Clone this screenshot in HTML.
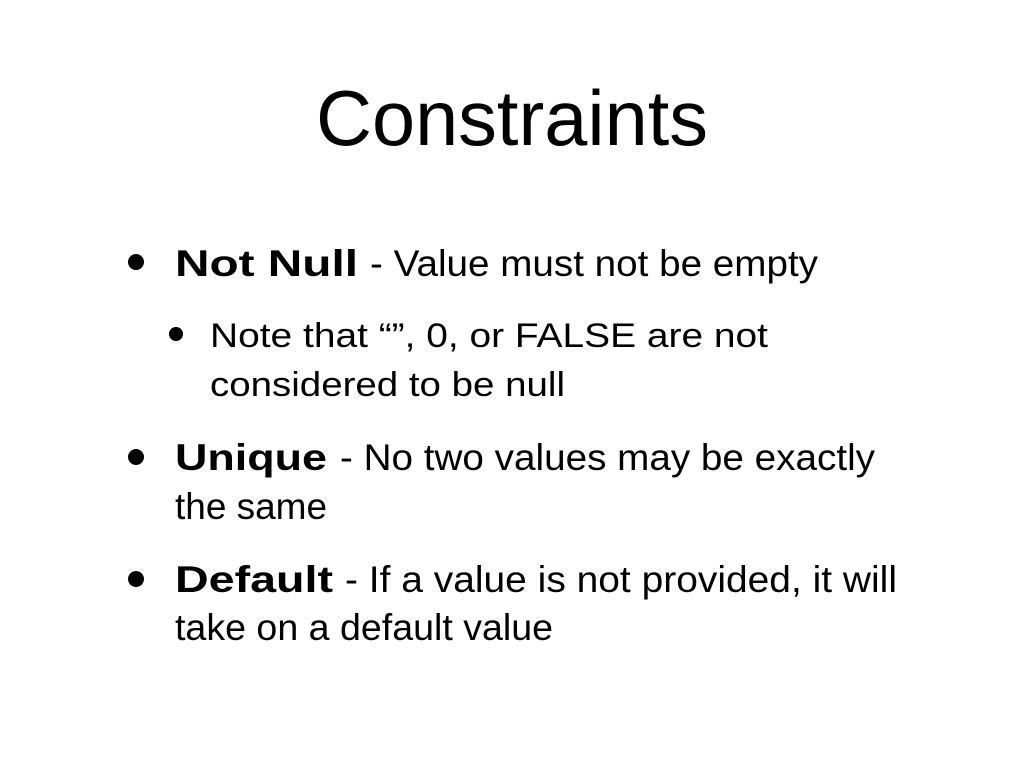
<!DOCTYPE html>
<html><head><meta charset="utf-8"><style>
html,body{margin:0;padding:0;background:#fff;}
svg{display:block}
text{font-family:"Liberation Sans",sans-serif;fill:#000}
</style></head><body>
<svg width="1024" height="768" viewBox="0 0 1024 768" xmlns="http://www.w3.org/2000/svg">
<rect width="1024" height="768" fill="#fff"/>
<text x="316" y="145" font-size="78" textLength="392" lengthAdjust="spacingAndGlyphs">Constraints</text>

<circle cx="136" cy="262" r="8"/>
<text x="175" y="276" font-size="37" font-weight="bold" textLength="183" lengthAdjust="spacingAndGlyphs">Not Null</text>
<text x="370" y="276" font-size="37" textLength="448" lengthAdjust="spacingAndGlyphs">- Value must not be empty</text>

<circle cx="176" cy="334" r="7"/>
<text x="210" y="347" font-size="34" textLength="558" lengthAdjust="spacingAndGlyphs">Note that “”, 0, or FALSE are not</text>
<text x="210" y="396" font-size="34" textLength="355" lengthAdjust="spacingAndGlyphs">considered to be null</text>

<circle cx="136" cy="457" r="8"/>
<text x="175" y="470" font-size="37" font-weight="bold" textLength="152" lengthAdjust="spacingAndGlyphs">Unique</text>
<text x="340" y="470" font-size="37" textLength="535" lengthAdjust="spacingAndGlyphs">- No two values may be exactly</text>
<text x="175" y="519" font-size="37" textLength="152" lengthAdjust="spacingAndGlyphs">the same</text>

<circle cx="136" cy="579" r="8"/>
<text x="175" y="592" font-size="37" font-weight="bold" textLength="158" lengthAdjust="spacingAndGlyphs">Default</text>
<text x="345" y="592" font-size="37" textLength="552" lengthAdjust="spacingAndGlyphs">- If a value is not provided, it will</text>
<text x="175" y="640" font-size="37" textLength="378" lengthAdjust="spacingAndGlyphs">take on a default value</text>
</svg>
</body></html>
